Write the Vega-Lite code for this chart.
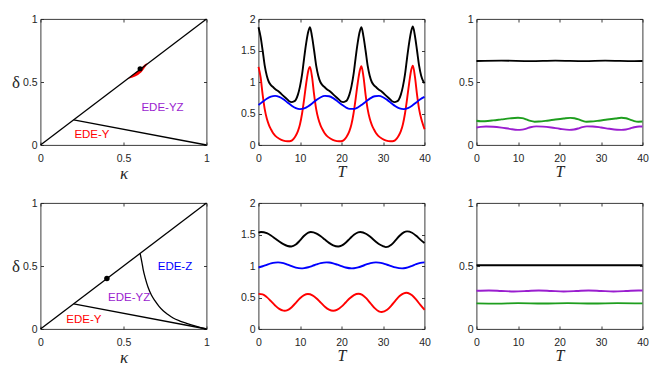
{
 "$schema": "https://vega.github.io/schema/vega-lite/v6.json",
 "background": "white",
 "padding": {"left": 10.5, "top": 13, "right": 5, "bottom": 5},
 "config": {
  "view": {"stroke": "#262626", "strokeWidth": 0.9},
  "axis": {"domain": false, "grid": false, "tickColor": "#262626", "tickSize": -3, "tickWidth": 0.9,
   "labelFont": "Liberation Sans", "labelFontSize": 10.5, "labelColor": "#262626", "labelFlush": false, "labelOverlap": false,
   "titleFont": "Liberation Serif", "titleFontWeight": "normal", "titleColor": "#262626"},
  "axisLeft": {"labelPadding": 6.5},
  "axisBottom": {"labelPadding": 11.5},
  "line": {"strokeWidth": 1.9, "interpolate": "monotone"}
 },
 "datasets": {
  "tl_lines": [
   {"seg": "diag", "kappa": 0, "delta": 0}, {"seg": "diag", "kappa": 1, "delta": 1},
   {"seg": "low", "kappa": 0.2, "delta": 0.2}, {"seg": "low", "kappa": 1, "delta": 0}
  ],
  "tl_lens": [
   {"kappa": 0.525, "lo": 0.524, "hi": 0.527}, {"kappa": 0.555, "lo": 0.535, "hi": 0.557},
   {"kappa": 0.585, "lo": 0.554, "hi": 0.588}, {"kappa": 0.612, "lo": 0.583, "hi": 0.618},
   {"kappa": 0.635, "lo": 0.625, "hi": 0.645}, {"kappa": 0.645, "lo": 0.642, "hi": 0.648}
  ],
  "tl_dot": [{"kappa": 0.6, "delta": 0.605}],
  "tl_text": [
   {"label": "EDE-YZ", "kappa": 0.735, "delta": 0.29},
   {"label": "EDE-Y", "kappa": 0.31, "delta": 0.08}
  ],
  "bl_lines": [
   {"seg": "diag", "kappa": 0, "delta": 0}, {"seg": "diag", "kappa": 1, "delta": 1},
   {"seg": "low", "kappa": 0.2, "delta": 0.2}, {"seg": "low", "kappa": 1, "delta": 0},
   {"seg": "curve", "kappa": 0.6, "delta": 0.6}, {"seg": "curve", "kappa": 0.61, "delta": 0.535},
   {"seg": "curve", "kappa": 0.618, "delta": 0.476}, {"seg": "curve", "kappa": 0.632, "delta": 0.4},
   {"seg": "curve", "kappa": 0.648, "delta": 0.331}, {"seg": "curve", "kappa": 0.668, "delta": 0.27},
   {"seg": "curve", "kappa": 0.689, "delta": 0.225}, {"seg": "curve", "kappa": 0.714, "delta": 0.18},
   {"seg": "curve", "kappa": 0.739, "delta": 0.145}, {"seg": "curve", "kappa": 0.77, "delta": 0.113},
   {"seg": "curve", "kappa": 0.799, "delta": 0.087}, {"seg": "curve", "kappa": 0.84, "delta": 0.063},
   {"seg": "curve", "kappa": 0.88, "delta": 0.045}, {"seg": "curve", "kappa": 0.94, "delta": 0.021},
   {"seg": "curve", "kappa": 1, "delta": 0}
  ],
  "bl_dot": [{"kappa": 0.4, "delta": 0.4}],
  "bl_text": [
   {"label": "EDE-Z", "kappa": 0.81, "delta": 0.495},
   {"label": "EDE-YZ", "kappa": 0.534, "delta": 0.243},
   {"label": "EDE-Y", "kappa": 0.261, "delta": 0.071}
  ],
  "tm": [
   {"s":"black","T":0,"v":1.87},{"s":"black","T":0.5,"v":1.72},{"s":"black","T":1,"v":1.5},{"s":"black","T":1.5,"v":1.26},{"s":"black","T":2,"v":1.1},{"s":"black","T":2.5,"v":1.0},{"s":"black","T":3,"v":0.95},{"s":"black","T":3.5,"v":0.92},{"s":"black","T":4,"v":0.89},{"s":"black","T":5,"v":0.84},{"s":"black","T":6,"v":0.78},{"s":"black","T":7,"v":0.72},{"s":"black","T":7.5,"v":0.69},{"s":"black","T":8,"v":0.68},{"s":"black","T":8.5,"v":0.69},{"s":"black","T":9,"v":0.72},{"s":"black","T":9.5,"v":0.8},{"s":"black","T":10,"v":0.93},{"s":"black","T":10.5,"v":1.12},{"s":"black","T":11,"v":1.38},{"s":"black","T":11.5,"v":1.62},{"s":"black","T":12,"v":1.8},
   {"s":"black","T":12.4,"v":1.87},{"s":"black","T":12.9,"v":1.72},{"s":"black","T":13.4,"v":1.5},{"s":"black","T":13.9,"v":1.26},{"s":"black","T":14.4,"v":1.1},{"s":"black","T":14.9,"v":1.0},{"s":"black","T":15.4,"v":0.95},{"s":"black","T":15.9,"v":0.92},{"s":"black","T":16.4,"v":0.89},{"s":"black","T":17.4,"v":0.84},{"s":"black","T":18.4,"v":0.78},{"s":"black","T":19.4,"v":0.72},{"s":"black","T":19.9,"v":0.69},{"s":"black","T":20.4,"v":0.68},{"s":"black","T":20.9,"v":0.69},{"s":"black","T":21.4,"v":0.72},{"s":"black","T":21.9,"v":0.8},{"s":"black","T":22.4,"v":0.93},{"s":"black","T":22.9,"v":1.12},{"s":"black","T":23.4,"v":1.38},{"s":"black","T":23.9,"v":1.62},{"s":"black","T":24.4,"v":1.8},
   {"s":"black","T":24.8,"v":1.87},{"s":"black","T":25.3,"v":1.72},{"s":"black","T":25.8,"v":1.5},{"s":"black","T":26.3,"v":1.26},{"s":"black","T":26.8,"v":1.1},{"s":"black","T":27.3,"v":1.0},{"s":"black","T":27.8,"v":0.95},{"s":"black","T":28.3,"v":0.92},{"s":"black","T":28.8,"v":0.89},{"s":"black","T":29.8,"v":0.84},{"s":"black","T":30.8,"v":0.78},{"s":"black","T":31.8,"v":0.72},{"s":"black","T":32.3,"v":0.69},{"s":"black","T":32.8,"v":0.68},{"s":"black","T":33.3,"v":0.69},{"s":"black","T":33.8,"v":0.72},{"s":"black","T":34.3,"v":0.8},{"s":"black","T":34.8,"v":0.93},{"s":"black","T":35.3,"v":1.12},{"s":"black","T":35.8,"v":1.38},{"s":"black","T":36.3,"v":1.62},{"s":"black","T":36.8,"v":1.81},
   {"s":"black","T":37.2,"v":1.88},{"s":"black","T":37.7,"v":1.73},{"s":"black","T":38.2,"v":1.5},{"s":"black","T":38.7,"v":1.26},{"s":"black","T":39.2,"v":1.1},{"s":"black","T":39.7,"v":1.01},{"s":"black","T":40,"v":0.98},
   {"s":"red","T":0,"v":1.24},{"s":"red","T":0.5,"v":1.08},{"s":"red","T":1,"v":0.8},{"s":"red","T":1.5,"v":0.57},{"s":"red","T":2,"v":0.42},{"s":"red","T":2.5,"v":0.32},{"s":"red","T":3,"v":0.25},{"s":"red","T":3.5,"v":0.19},{"s":"red","T":4,"v":0.15},{"s":"red","T":5,"v":0.1},{"s":"red","T":6,"v":0.07},{"s":"red","T":7,"v":0.06},{"s":"red","T":7.5,"v":0.06},{"s":"red","T":8,"v":0.07},{"s":"red","T":8.5,"v":0.1},{"s":"red","T":9,"v":0.15},{"s":"red","T":9.5,"v":0.22},{"s":"red","T":10,"v":0.33},{"s":"red","T":10.5,"v":0.5},{"s":"red","T":11,"v":0.73},{"s":"red","T":11.5,"v":0.98},{"s":"red","T":12,"v":1.18},
   {"s":"red","T":12.4,"v":1.24},{"s":"red","T":12.9,"v":1.08},{"s":"red","T":13.4,"v":0.8},{"s":"red","T":13.9,"v":0.57},{"s":"red","T":14.4,"v":0.42},{"s":"red","T":14.9,"v":0.32},{"s":"red","T":15.4,"v":0.25},{"s":"red","T":15.9,"v":0.19},{"s":"red","T":16.4,"v":0.15},{"s":"red","T":17.4,"v":0.1},{"s":"red","T":18.4,"v":0.07},{"s":"red","T":19.4,"v":0.06},{"s":"red","T":19.9,"v":0.06},{"s":"red","T":20.4,"v":0.07},{"s":"red","T":20.9,"v":0.1},{"s":"red","T":21.4,"v":0.15},{"s":"red","T":21.9,"v":0.22},{"s":"red","T":22.4,"v":0.33},{"s":"red","T":22.9,"v":0.5},{"s":"red","T":23.4,"v":0.73},{"s":"red","T":23.9,"v":0.98},{"s":"red","T":24.4,"v":1.18},
   {"s":"red","T":24.8,"v":1.25},{"s":"red","T":25.3,"v":1.08},{"s":"red","T":25.8,"v":0.8},{"s":"red","T":26.3,"v":0.57},{"s":"red","T":26.8,"v":0.42},{"s":"red","T":27.3,"v":0.32},{"s":"red","T":27.8,"v":0.25},{"s":"red","T":28.3,"v":0.19},{"s":"red","T":28.8,"v":0.15},{"s":"red","T":29.8,"v":0.1},{"s":"red","T":30.8,"v":0.07},{"s":"red","T":31.8,"v":0.06},{"s":"red","T":32.3,"v":0.06},{"s":"red","T":32.8,"v":0.07},{"s":"red","T":33.3,"v":0.1},{"s":"red","T":33.8,"v":0.15},{"s":"red","T":34.3,"v":0.22},{"s":"red","T":34.8,"v":0.33},{"s":"red","T":35.3,"v":0.5},{"s":"red","T":35.8,"v":0.73},{"s":"red","T":36.3,"v":0.98},{"s":"red","T":36.8,"v":1.19},
   {"s":"red","T":37.2,"v":1.26},{"s":"red","T":37.7,"v":1.08},{"s":"red","T":38.2,"v":0.8},{"s":"red","T":38.7,"v":0.57},{"s":"red","T":39.2,"v":0.42},{"s":"red","T":39.7,"v":0.31},{"s":"red","T":40,"v":0.25},
   {"s":"blue","T":0,"v":0.634},{"s":"blue","T":1,"v":0.686},{"s":"blue","T":2,"v":0.735},{"s":"blue","T":3,"v":0.769},{"s":"blue","T":4,"v":0.78},{"s":"blue","T":5,"v":0.764},{"s":"blue","T":6,"v":0.726},{"s":"blue","T":7,"v":0.675},{"s":"blue","T":8,"v":0.624},{"s":"blue","T":9,"v":0.586},{"s":"blue","T":10,"v":0.57},{"s":"blue","T":11,"v":0.581},{"s":"blue","T":12,"v":0.615},{"s":"blue","T":13,"v":0.664},{"s":"blue","T":14,"v":0.716},{"s":"blue","T":15,"v":0.758},{"s":"blue","T":16,"v":0.779},{"s":"blue","T":17,"v":0.773},{"s":"blue","T":18,"v":0.743},{"s":"blue","T":19,"v":0.696},{"s":"blue","T":20,"v":0.644},{"s":"blue","T":21,"v":0.599},{"s":"blue","T":22,"v":0.573},{"s":"blue","T":23,"v":0.573},{"s":"blue","T":24,"v":0.599},{"s":"blue","T":25,"v":0.644},{"s":"blue","T":26,"v":0.696},{"s":"blue","T":27,"v":0.743},{"s":"blue","T":28,"v":0.773},{"s":"blue","T":29,"v":0.779},{"s":"blue","T":30,"v":0.758},{"s":"blue","T":31,"v":0.716},{"s":"blue","T":32,"v":0.664},{"s":"blue","T":33,"v":0.615},{"s":"blue","T":34,"v":0.581},{"s":"blue","T":35,"v":0.57},{"s":"blue","T":36,"v":0.586},{"s":"blue","T":37,"v":0.624},{"s":"blue","T":38,"v":0.675},{"s":"blue","T":39,"v":0.726},{"s":"blue","T":40,"v":0.764}
  ],
  "tr": [
   {"s":"black","T":0,"v":0.667},{"s":"black","T":6,"v":0.67},{"s":"black","T":13,"v":0.666},{"s":"black","T":19,"v":0.67},{"s":"black","T":26,"v":0.666},{"s":"black","T":31,"v":0.67},{"s":"black","T":38,"v":0.666},{"s":"black","T":40,"v":0.667},
   {"s":"green","T":0,"v":0.192},{"s":"green","T":1,"v":0.188},{"s":"green","T":2,"v":0.189},{"s":"green","T":4,"v":0.195},{"s":"green","T":6,"v":0.203},{"s":"green","T":8,"v":0.211},{"s":"green","T":10,"v":0.216},{"s":"green","T":11,"v":0.213},{"s":"green","T":12,"v":0.203},{"s":"green","T":13,"v":0.191},{"s":"green","T":14,"v":0.185},{"s":"green","T":15,"v":0.186},{"s":"green","T":17,"v":0.193},{"s":"green","T":19,"v":0.202},{"s":"green","T":21,"v":0.21},{"s":"green","T":22.6,"v":0.215},{"s":"green","T":23.6,"v":0.212},{"s":"green","T":24.6,"v":0.203},{"s":"green","T":25.6,"v":0.191},{"s":"green","T":26.5,"v":0.185},{"s":"green","T":27.5,"v":0.186},{"s":"green","T":29.5,"v":0.193},{"s":"green","T":31.5,"v":0.202},{"s":"green","T":33.5,"v":0.21},{"s":"green","T":34.9,"v":0.216},{"s":"green","T":36,"v":0.212},{"s":"green","T":37,"v":0.201},{"s":"green","T":38,"v":0.19},{"s":"green","T":39,"v":0.185},{"s":"green","T":40,"v":0.186},
   {"s":"purple","T":0,"v":0.139},{"s":"purple","T":1,"v":0.144},{"s":"purple","T":2.3,"v":0.147},{"s":"purple","T":4,"v":0.145},{"s":"purple","T":6,"v":0.138},{"s":"purple","T":8,"v":0.128},{"s":"purple","T":9.9,"v":0.12},{"s":"purple","T":11,"v":0.122},{"s":"purple","T":12,"v":0.13},{"s":"purple","T":13,"v":0.141},{"s":"purple","T":14.4,"v":0.148},{"s":"purple","T":16,"v":0.146},{"s":"purple","T":18,"v":0.139},{"s":"purple","T":20,"v":0.129},{"s":"purple","T":22.4,"v":0.12},{"s":"purple","T":23.5,"v":0.123},{"s":"purple","T":24.5,"v":0.131},{"s":"purple","T":25.5,"v":0.142},{"s":"purple","T":26.6,"v":0.148},{"s":"purple","T":28,"v":0.147},{"s":"purple","T":30,"v":0.139},{"s":"purple","T":32,"v":0.129},{"s":"purple","T":34.9,"v":0.12},{"s":"purple","T":36,"v":0.123},{"s":"purple","T":37,"v":0.131},{"s":"purple","T":38,"v":0.141},{"s":"purple","T":39.2,"v":0.147},{"s":"purple","T":40,"v":0.147}
  ],
  "bm": [
   {"s":"black","T":0,"v":1.53},{"s":"black","T":0.6,"v":1.54},{"s":"black","T":2,"v":1.52},{"s":"black","T":3,"v":1.484},{"s":"black","T":4,"v":1.437},{"s":"black","T":5,"v":1.388},{"s":"black","T":6,"v":1.346},{"s":"black","T":7,"v":1.318},{"s":"black","T":7.9,"v":1.31},{"s":"black","T":9,"v":1.34},{"s":"black","T":10,"v":1.406},{"s":"black","T":11,"v":1.48},{"s":"black","T":12,"v":1.531},{"s":"black","T":12.6,"v":1.54},{"s":"black","T":14,"v":1.515},{"s":"black","T":15,"v":1.473},{"s":"black","T":16,"v":1.42},{"s":"black","T":17,"v":1.367},{"s":"black","T":18,"v":1.328},{"s":"black","T":19.2,"v":1.31},{"s":"black","T":20,"v":1.323},{"s":"black","T":21,"v":1.369},{"s":"black","T":22,"v":1.435},{"s":"black","T":23,"v":1.497},{"s":"black","T":24,"v":1.535},{"s":"black","T":24.5,"v":1.54},{"s":"black","T":26,"v":1.508},{"s":"black","T":27,"v":1.459},{"s":"black","T":28,"v":1.402},{"s":"black","T":29,"v":1.35},{"s":"black","T":30,"v":1.317},{"s":"black","T":30.7,"v":1.3},{"s":"black","T":32,"v":1.338},{"s":"black","T":33,"v":1.406},{"s":"black","T":34,"v":1.481},{"s":"black","T":35,"v":1.535},{"s":"black","T":35.8,"v":1.55},{"s":"black","T":37,"v":1.528},{"s":"black","T":38,"v":1.48},{"s":"black","T":39,"v":1.419},{"s":"black","T":40,"v":1.365},
   {"s":"blue","T":0,"v":0.976},{"s":"blue","T":1,"v":0.996},{"s":"blue","T":2,"v":1.019},{"s":"blue","T":3,"v":1.041},{"s":"blue","T":4,"v":1.054},{"s":"blue","T":4.7,"v":1.057},{"s":"blue","T":6,"v":1.045},{"s":"blue","T":7,"v":1.023},{"s":"blue","T":8,"v":0.997},{"s":"blue","T":9,"v":0.975},{"s":"blue","T":10.3,"v":0.963},{"s":"blue","T":11,"v":0.966},{"s":"blue","T":12,"v":0.98},{"s":"blue","T":13,"v":1.002},{"s":"blue","T":14,"v":1.025},{"s":"blue","T":15,"v":1.045},{"s":"blue","T":16.4,"v":1.057},{"s":"blue","T":17,"v":1.055},{"s":"blue","T":18,"v":1.042},{"s":"blue","T":19,"v":1.021},{"s":"blue","T":20,"v":0.997},{"s":"blue","T":21,"v":0.976},{"s":"blue","T":22.5,"v":0.963},{"s":"blue","T":23,"v":0.965},{"s":"blue","T":24,"v":0.978},{"s":"blue","T":25,"v":1.0},{"s":"blue","T":26,"v":1.025},{"s":"blue","T":27,"v":1.046},{"s":"blue","T":28.3,"v":1.057},{"s":"blue","T":29,"v":1.054},{"s":"blue","T":30,"v":1.041},{"s":"blue","T":31,"v":1.02},{"s":"blue","T":32,"v":0.997},{"s":"blue","T":33,"v":0.977},{"s":"blue","T":34.6,"v":0.963},{"s":"blue","T":35,"v":0.964},{"s":"blue","T":36,"v":0.978},{"s":"blue","T":37,"v":1.002},{"s":"blue","T":38,"v":1.029},{"s":"blue","T":39,"v":1.049},{"s":"blue","T":40,"v":1.057},
   {"s":"red","T":0,"v":0.558},{"s":"red","T":1,"v":0.549},{"s":"red","T":2,"v":0.506},{"s":"red","T":3,"v":0.442},{"s":"red","T":4,"v":0.374},{"s":"red","T":5,"v":0.319},{"s":"red","T":6,"v":0.292},{"s":"red","T":6.3,"v":0.29},{"s":"red","T":7,"v":0.3},{"s":"red","T":8,"v":0.346},{"s":"red","T":9,"v":0.416},{"s":"red","T":10,"v":0.487},{"s":"red","T":11,"v":0.539},{"s":"red","T":11.9,"v":0.555},{"s":"red","T":13,"v":0.535},{"s":"red","T":14,"v":0.485},{"s":"red","T":15,"v":0.419},{"s":"red","T":16,"v":0.354},{"s":"red","T":17,"v":0.307},{"s":"red","T":18,"v":0.29},{"s":"red","T":19,"v":0.308},{"s":"red","T":20,"v":0.355},{"s":"red","T":21,"v":0.421},{"s":"red","T":22,"v":0.488},{"s":"red","T":23,"v":0.539},{"s":"red","T":24.1,"v":0.56},{"s":"red","T":25,"v":0.542},{"s":"red","T":26,"v":0.485},{"s":"red","T":27,"v":0.407},{"s":"red","T":28,"v":0.331},{"s":"red","T":29,"v":0.281},{"s":"red","T":29.7,"v":0.27},{"s":"red","T":31,"v":0.305},{"s":"red","T":32,"v":0.371},{"s":"red","T":33,"v":0.451},{"s":"red","T":34,"v":0.523},{"s":"red","T":35,"v":0.567},{"s":"red","T":35.6,"v":0.575},{"s":"red","T":36,"v":0.571},{"s":"red","T":37,"v":0.534},{"s":"red","T":38,"v":0.465},{"s":"red","T":39,"v":0.383},{"s":"red","T":40,"v":0.305}
  ],
  "br": [
   {"s":"black","T":0,"v":0.506},{"s":"black","T":20,"v":0.506},{"s":"black","T":40,"v":0.506},
   {"s":"purple","T":0,"v":0.303},{"s":"purple","T":3,"v":0.306},{"s":"purple","T":6,"v":0.302},{"s":"purple","T":9,"v":0.298},{"s":"purple","T":12,"v":0.301},{"s":"purple","T":15,"v":0.306},{"s":"purple","T":18,"v":0.302},{"s":"purple","T":21,"v":0.298},{"s":"purple","T":24,"v":0.301},{"s":"purple","T":27,"v":0.306},{"s":"purple","T":30,"v":0.302},{"s":"purple","T":33,"v":0.298},{"s":"purple","T":36,"v":0.301},{"s":"purple","T":39,"v":0.306},{"s":"purple","T":40,"v":0.306},
   {"s":"green","T":0,"v":0.203},{"s":"green","T":5,"v":0.201},{"s":"green","T":10,"v":0.205},{"s":"green","T":16,"v":0.202},{"s":"green","T":22,"v":0.205},{"s":"green","T":28,"v":0.202},{"s":"green","T":34,"v":0.205},{"s":"green","T":40,"v":0.203}
  ]
 },
 "columns": 3,
 "bounds": "flush",
 "spacing": {"row": 58, "column": 52},
 "resolve": {"scale": {"x": "independent", "y": "independent", "color": "independent"}},
 "concat": [
  {
   "width": 166, "height": 126,
   "resolve": {"axis": {"x": "independent", "y": "independent"}},
   "layer": [
    {"data": {"name": "tl_lens"}, "mark": {"type": "area", "color": "#ff0000", "interpolate": "monotone"},
     "encoding": {
      "x": {"field": "kappa", "type": "quantitative", "scale": {"domain": [0, 1]}, "axis": {"values": [0, 0.5, 1], "format": "~g", "title": "κ", "titleFontSize": 17, "titleFontStyle": "italic", "titleBaseline": "alphabetic", "titleY": 33}},
      "y": {"field": "lo", "type": "quantitative", "scale": {"domain": [0, 1]}, "axis": {"values": [0, 0.5, 1], "format": "~g", "title": "δ", "titleFontSize": 17, "titleAngle": 0, "titleAlign": "center", "titleBaseline": "middle", "titleX": -25, "titleY": 63}},
      "y2": {"field": "hi"}}},
    {"data": {"name": "tl_lines"}, "mark": {"type": "line", "color": "#000000", "strokeWidth": 1.3, "interpolate": "linear"},
     "encoding": {"x": {"field": "kappa", "type": "quantitative", "axis": {"orient": "top", "labels": false, "title": null, "values": [0, 0.5, 1]}}, "y": {"field": "delta", "type": "quantitative", "axis": {"orient": "right", "labels": false, "title": null, "values": [0, 0.5, 1]}}, "detail": {"field": "seg"}}},
    {"data": {"name": "tl_dot"}, "mark": {"type": "point", "filled": true, "color": "#000000", "size": 26, "opacity": 1},
     "encoding": {"x": {"field": "kappa", "type": "quantitative", "axis": null}, "y": {"field": "delta", "type": "quantitative", "axis": null}}},
    {"data": {"name": "tl_text"}, "transform": [{"filter": "datum.label == 'EDE-YZ'"}], "mark": {"type": "text", "color": "#9a1ecf", "font": "Liberation Sans", "fontSize": 11.5},
     "encoding": {"x": {"field": "kappa", "type": "quantitative", "axis": null}, "y": {"field": "delta", "type": "quantitative", "axis": null}, "text": {"field": "label"}}},
    {"data": {"name": "tl_text"}, "transform": [{"filter": "datum.label == 'EDE-Y'"}], "mark": {"type": "text", "color": "#ff0000", "font": "Liberation Sans", "fontSize": 11.5},
     "encoding": {"x": {"field": "kappa", "type": "quantitative", "axis": null}, "y": {"field": "delta", "type": "quantitative", "axis": null}, "text": {"field": "label"}}}
   ]
  },
  {
   "width": 166, "height": 126,
   "resolve": {"axis": {"x": "independent", "y": "independent"}},
   "layer": [
    {"data": {"name": "tm"}, "mark": {"type": "line"},
     "encoding": {
      "x": {"field": "T", "type": "quantitative", "scale": {"domain": [0, 40]}, "axis": {"values": [0, 10, 20, 30, 40], "title": "T", "titleFontSize": 16, "titleFontStyle": "italic", "titleBaseline": "alphabetic", "titleY": 31}},
      "y": {"field": "v", "type": "quantitative", "scale": {"domain": [0, 2]}, "axis": {"values": [0, 0.5, 1, 1.5, 2], "format": "~g", "title": null}},
      "color": {"field": "s", "type": "nominal", "scale": {"domain": ["black", "blue", "red", "green", "purple"], "range": ["#000000", "#0000ff", "#ff0000", "#1e9e1e", "#9a1ecf"]}, "legend": null}}},
    {"data": {"name": "tm"}, "mark": {"type": "point", "opacity": 0},
     "encoding": {"x": {"field": "T", "type": "quantitative", "axis": {"orient": "top", "labels": false, "title": null, "values": [0, 10, 20, 30, 40]}}, "y": {"field": "v", "type": "quantitative", "axis": {"orient": "right", "labels": false, "title": null, "values": [0, 0.5, 1, 1.5, 2]}}}}
   ]
  },
  {
   "width": 166, "height": 126,
   "resolve": {"axis": {"x": "independent", "y": "independent"}},
   "layer": [
    {"data": {"name": "tr"}, "mark": {"type": "line"},
     "encoding": {
      "x": {"field": "T", "type": "quantitative", "scale": {"domain": [0, 40]}, "axis": {"values": [0, 10, 20, 30, 40], "title": "T", "titleFontSize": 16, "titleFontStyle": "italic", "titleBaseline": "alphabetic", "titleY": 31}},
      "y": {"field": "v", "type": "quantitative", "scale": {"domain": [0, 1]}, "axis": {"values": [0, 0.5, 1], "format": "~g", "title": null}},
      "color": {"field": "s", "type": "nominal", "scale": {"domain": ["black", "blue", "red", "green", "purple"], "range": ["#000000", "#0000ff", "#ff0000", "#1e9e1e", "#9a1ecf"]}, "legend": null}}},
    {"data": {"name": "tr"}, "mark": {"type": "point", "opacity": 0},
     "encoding": {"x": {"field": "T", "type": "quantitative", "axis": {"orient": "top", "labels": false, "title": null, "values": [0, 10, 20, 30, 40]}}, "y": {"field": "v", "type": "quantitative", "axis": {"orient": "right", "labels": false, "title": null, "values": [0, 0.5, 1]}}}}
   ]
  },
  {
   "width": 166, "height": 126,
   "resolve": {"axis": {"x": "independent", "y": "independent"}},
   "layer": [
    {"data": {"name": "bl_lines"}, "mark": {"type": "line", "color": "#000000", "strokeWidth": 1.3, "interpolate": "monotone"},
     "encoding": {
      "x": {"field": "kappa", "type": "quantitative", "scale": {"domain": [0, 1]}, "axis": {"values": [0, 0.5, 1], "format": "~g", "title": "κ", "titleFontSize": 17, "titleFontStyle": "italic", "titleBaseline": "alphabetic", "titleY": 33}},
      "y": {"field": "delta", "type": "quantitative", "scale": {"domain": [0, 1]}, "axis": {"values": [0, 0.5, 1], "format": "~g", "title": "δ", "titleFontSize": 17, "titleAngle": 0, "titleAlign": "center", "titleBaseline": "middle", "titleX": -25, "titleY": 63}},
      "detail": {"field": "seg"}}},
    {"data": {"name": "bl_dot"}, "mark": {"type": "point", "filled": true, "color": "#000000", "size": 30, "opacity": 1},
     "encoding": {"x": {"field": "kappa", "type": "quantitative", "axis": {"orient": "top", "labels": false, "title": null, "values": [0, 0.5, 1]}}, "y": {"field": "delta", "type": "quantitative", "axis": {"orient": "right", "labels": false, "title": null, "values": [0, 0.5, 1]}}}},
    {"data": {"name": "bl_text"}, "transform": [{"filter": "datum.label == 'EDE-Z'"}], "mark": {"type": "text", "color": "#0000ff", "font": "Liberation Sans", "fontSize": 11.5},
     "encoding": {"x": {"field": "kappa", "type": "quantitative", "axis": null}, "y": {"field": "delta", "type": "quantitative", "axis": null}, "text": {"field": "label"}}},
    {"data": {"name": "bl_text"}, "transform": [{"filter": "datum.label == 'EDE-YZ'"}], "mark": {"type": "text", "color": "#9a1ecf", "font": "Liberation Sans", "fontSize": 11.5},
     "encoding": {"x": {"field": "kappa", "type": "quantitative", "axis": null}, "y": {"field": "delta", "type": "quantitative", "axis": null}, "text": {"field": "label"}}},
    {"data": {"name": "bl_text"}, "transform": [{"filter": "datum.label == 'EDE-Y'"}], "mark": {"type": "text", "color": "#ff0000", "font": "Liberation Sans", "fontSize": 11.5},
     "encoding": {"x": {"field": "kappa", "type": "quantitative", "axis": null}, "y": {"field": "delta", "type": "quantitative", "axis": null}, "text": {"field": "label"}}}
   ]
  },
  {
   "width": 166, "height": 126,
   "resolve": {"axis": {"x": "independent", "y": "independent"}},
   "layer": [
    {"data": {"name": "bm"}, "mark": {"type": "line"},
     "encoding": {
      "x": {"field": "T", "type": "quantitative", "scale": {"domain": [0, 40]}, "axis": {"values": [0, 10, 20, 30, 40], "title": "T", "titleFontSize": 16, "titleFontStyle": "italic", "titleBaseline": "alphabetic", "titleY": 31}},
      "y": {"field": "v", "type": "quantitative", "scale": {"domain": [0, 2]}, "axis": {"values": [0, 0.5, 1, 1.5, 2], "format": "~g", "title": null}},
      "color": {"field": "s", "type": "nominal", "scale": {"domain": ["black", "blue", "red", "green", "purple"], "range": ["#000000", "#0000ff", "#ff0000", "#1e9e1e", "#9a1ecf"]}, "legend": null}}},
    {"data": {"name": "bm"}, "mark": {"type": "point", "opacity": 0},
     "encoding": {"x": {"field": "T", "type": "quantitative", "axis": {"orient": "top", "labels": false, "title": null, "values": [0, 10, 20, 30, 40]}}, "y": {"field": "v", "type": "quantitative", "axis": {"orient": "right", "labels": false, "title": null, "values": [0, 0.5, 1, 1.5, 2]}}}}
   ]
  },
  {
   "width": 166, "height": 126,
   "resolve": {"axis": {"x": "independent", "y": "independent"}},
   "layer": [
    {"data": {"name": "br"}, "mark": {"type": "line"},
     "encoding": {
      "x": {"field": "T", "type": "quantitative", "scale": {"domain": [0, 40]}, "axis": {"values": [0, 10, 20, 30, 40], "title": "T", "titleFontSize": 16, "titleFontStyle": "italic", "titleBaseline": "alphabetic", "titleY": 31}},
      "y": {"field": "v", "type": "quantitative", "scale": {"domain": [0, 1]}, "axis": {"values": [0, 0.5, 1], "format": "~g", "title": null}},
      "color": {"field": "s", "type": "nominal", "scale": {"domain": ["black", "blue", "red", "green", "purple"], "range": ["#000000", "#0000ff", "#ff0000", "#1e9e1e", "#9a1ecf"]}, "legend": null}}},
    {"data": {"name": "br"}, "mark": {"type": "point", "opacity": 0},
     "encoding": {"x": {"field": "T", "type": "quantitative", "axis": {"orient": "top", "labels": false, "title": null, "values": [0, 10, 20, 30, 40]}}, "y": {"field": "v", "type": "quantitative", "axis": {"orient": "right", "labels": false, "title": null, "values": [0, 0.5, 1]}}}}
   ]
  }
 ]
}
